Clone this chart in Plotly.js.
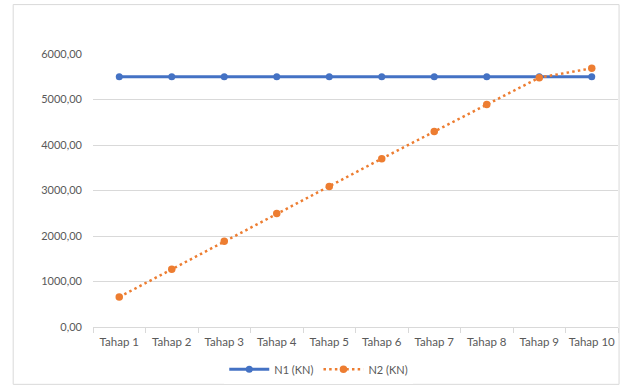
<!DOCTYPE html>
<html>
<head>
<meta charset="utf-8">
<script src="https://cdn.plot.ly/plotly-3.0.1.min.js"></script>
<style>
  html, body { margin: 0; padding: 0; background: #fff; }
  #chart { width: 626px; height: 385px; }
</style>
</head>
<body>
<div id="chart"></div>
<script>
// Stage labels and the two force series (kN)
const stages = ["Tahap 1", "Tahap 2", "Tahap 3", "Tahap 4", "Tahap 5",
                "Tahap 6", "Tahap 7", "Tahap 8", "Tahap 9", "Tahap 10"];
const n1Values = [5500, 5500, 5500, 5500, 5500, 5500, 5500, 5500, 5500, 5500];
const n2Values = [660, 1270, 1885, 2495, 3090, 3700, 4295, 4890, 5480, 5685];
const seriesNames = ["N1 (KN)", "N2 (KN)"];
const yTicks = [0, 1000, 2000, 3000, 4000, 5000, 6000];

const fontFamily = "Lato, 'Liberation Sans', sans-serif";
const textColor = "#595959";
const gridColor = "#d9d9d9";

const traces = [
  {
    x: stages, y: n1Values, name: seriesNames[0],
    type: "scatter", mode: "lines+markers",
    line: { color: "#4472C4", width: 3 },
    marker: { color: "#4472C4", size: 7 }
  },
  {
    x: stages, y: n2Values, name: seriesNames[1],
    type: "scatter", mode: "lines+markers",
    line: { color: "#ED7D31", width: 2.5, dash: "2.5px,3.2px" },
    marker: { color: "#ED7D31", size: 7.5 }
  }
];

const layout = {
  width: 626, height: 385,
  margin: { l: 93, r: 8, t: 54, b: 58, autoexpand: false },
  paper_bgcolor: "#ffffff", plot_bgcolor: "#ffffff",
  font: { family: fontFamily, size: 11, color: textColor },
  separators: ",.",
  showlegend: true,
  legend: {
    orientation: "h", x: 0.43, xanchor: "center", y: -0.155, yanchor: "middle",
    font: { family: fontFamily, size: 11, color: textColor },
    itemwidth: 40, traceorder: "normal"
  },
  xaxis: {
    type: "category",
    range: [-0.5, stages.length - 0.5],
    automargin: false,
    showline: true, linecolor: gridColor, linewidth: 1,
    showgrid: false, zeroline: false,
    ticks: "outside", ticklen: 5, tickcolor: gridColor,
    tickson: "boundaries",
    tickangle: 0,
    ticklabelstandoff: 4,
    tickfont: { family: fontFamily, size: 11.5, color: textColor },
    fixedrange: true
  },
  yaxis: {
    automargin: false,
    range: [0, 6000],
    tickvals: yTicks, tickformat: ".2f",
    showgrid: true, gridcolor: gridColor, gridwidth: 1,
    zeroline: false, showline: false, ticks: "",
    ticklabelstandoff: 10,
    tickfont: { family: fontFamily, size: 11, color: textColor },
    fixedrange: true
  },
  shapes: [
    {
      type: "rect", xref: "paper", yref: "paper",
      x0: -0.152, x1: 1.002, y0: -0.21, y1: 1.181,
      line: { color: gridColor, width: 1 }, fillcolor: "rgba(0,0,0,0)",
      layer: "below"
    }
  ]
};

Plotly.newPlot("chart", traces, layout, { displayModeBar: false, staticPlot: true });
</script>
</body>
</html>
